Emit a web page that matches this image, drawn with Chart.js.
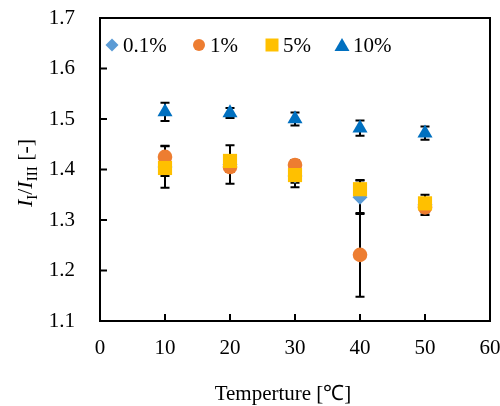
<!DOCTYPE html>
<html>
<head>
<meta charset="utf-8">
<script src="https://cdn.jsdelivr.net/npm/chart.js@4/dist/chart.umd.min.js"></script>
<style>
html, body { margin: 0; padding: 0; background: #fff; }
</style>
</head>
<body>
<canvas id="grafico" width="500" height="406"></canvas>
<script>
// dados
const temperaturas = [10, 20, 30, 40, 50];
const serieNomes = ['0.1%', '1%', '5%', '10%'];
const valores01 = [1.405, 1.410, 1.387, 1.345, 1.330];
const valores1 = [1.425, 1.405, 1.409, 1.231, 1.325];
const valores5 = [1.403, 1.417, 1.389, 1.361, 1.333];
const valores10 = [1.514, 1.512, 1.500, 1.482, 1.472];
const erros01 = [0.041, 0.038, 0.022, 0.033, 0.020];
const erros1 = [0.022, 0.010, 0.010, 0.083, 0.010];
const erros5 = [0.016, 0.010, 0.015, 0.018, 0.010];
const erros10 = [0.018, 0.010, 0.013, 0.015, 0.013];
const ticksX = [0, 10, 20, 30, 40, 50, 60];
const ticksY = [1.1, 1.2, 1.3, 1.4, 1.5, 1.6, 1.7];

const cores = ['#5B9BD5', '#ED7D31', '#FFC000', '#0070C0'];
const estilos = ['rectRot', 'circle', 'rect', 'triangle'];
const raios = [7.5, 7.3, 10, 8.7];
const fonte = '"Liberation Serif", "Times New Roman", serif';

function montarPontos(valores, erros) {
    return temperaturas.map(function (t, i) {
        return { x: t, y: valores[i], erro: erros[i] };
    });
}

const listaValores = [valores01, valores1, valores5, valores10];
const listaErros = [erros01, erros1, erros5, erros10];

let datasets = serieNomes.map(function (nome, i) {
    return {
        label: nome,
        data: montarPontos(listaValores[i], listaErros[i]),
        backgroundColor: cores[i],
        borderColor: cores[i],
        borderWidth: 0,
        pointStyle: estilos[i],
        pointRadius: raios[i],
        pointHoverRadius: raios[i],
        showLine: false,
        order: serieNomes.length - 1 - i // última série por cima, como no Excel
    };
});

// zera o padding extra que os ticks pedem, pra área ficar onde a gente quer
function semPadding(s) {
    s.paddingTop = 0; s.paddingBottom = 0; s.paddingLeft = 0; s.paddingRight = 0;
}

// barras de erro, moldura, ticks internos, legenda e títulos
const extras = {
    id: 'extras',
    beforeDatasetsDraw(chart) {
        const ctx = chart.ctx;
        const sx = chart.scales.x, sy = chart.scales.y;
        ctx.save();
        ctx.strokeStyle = '#000';
        ctx.lineWidth = 2;
        chart.data.datasets.forEach(function (ds) {
            ds.data.forEach(function (p) {
                const px = sx.getPixelForValue(p.x);
                const top = sy.getPixelForValue(p.y + p.erro);
                const bot = sy.getPixelForValue(p.y - p.erro);
                ctx.beginPath();
                ctx.moveTo(px, top); ctx.lineTo(px, bot);
                ctx.moveTo(px - 4.5, top); ctx.lineTo(px + 4.5, top);
                ctx.moveTo(px - 4.5, bot); ctx.lineTo(px + 4.5, bot);
                ctx.stroke();
            });
        });
        ctx.restore();
    },
    afterDraw(chart) {
        const ctx = chart.ctx;
        const a = chart.chartArea;
        const sx = chart.scales.x, sy = chart.scales.y;
        ctx.save();
        ctx.strokeStyle = '#000';
        ctx.lineWidth = 2;
        ctx.strokeRect(a.left, a.top, a.right - a.left, a.bottom - a.top);
        ctx.beginPath();
        ticksX.forEach(function (t) {
            const px = sx.getPixelForValue(t);
            ctx.moveTo(px, a.bottom); ctx.lineTo(px, a.bottom - 7);
        });
        ticksY.forEach(function (t) {
            const py = sy.getPixelForValue(t);
            ctx.moveTo(a.left, py); ctx.lineTo(a.left + 7, py);
        });
        ctx.stroke();

        // legenda dentro da área
        const posLeg = [112, 199, 272, 342];
        ctx.font = '21px ' + fonte;
        ctx.fillStyle = '#000';
        ctx.textBaseline = 'middle';
        const yLeg = 45;
        chart.data.datasets.forEach(function (ds, i) {
            const cx = posLeg[i];
            ctx.fillStyle = cores[i];
            ctx.beginPath();
            if (estilos[i] === 'rectRot') {
                ctx.moveTo(cx, yLeg - 6.5); ctx.lineTo(cx + 6.5, yLeg);
                ctx.lineTo(cx, yLeg + 6.5); ctx.lineTo(cx - 6.5, yLeg);
            } else if (estilos[i] === 'circle') {
                ctx.arc(cx, yLeg, 6, 0, Math.PI * 2);
            } else if (estilos[i] === 'rect') {
                ctx.rect(cx - 6.5, yLeg - 6.5, 13, 13);
            } else {
                ctx.moveTo(cx, yLeg - 7); ctx.lineTo(cx + 7.5, yLeg + 6);
                ctx.lineTo(cx - 7.5, yLeg + 6);
            }
            ctx.closePath();
            ctx.fill();
            ctx.fillStyle = '#000';
            ctx.textAlign = 'left';
            ctx.fillText(ds.label, cx + 11, yLeg + 1);
        });

        // título eixo x
        ctx.textAlign = 'center';
        ctx.textBaseline = 'alphabetic';
        ctx.font = '21px ' + fonte;
        ctx.fillText('Temperture [℃]', 283, 400);

        // título eixo y com subscritos
        const partes = [
            { t: 'I', f: 'italic 22px ' + fonte, dy: 0 },
            { t: 'I', f: '15px ' + fonte, dy: 5 },
            { t: '/', f: '22px ' + fonte, dy: 0 },
            { t: 'I', f: 'italic 22px ' + fonte, dy: 0 },
            { t: 'III', f: '15px ' + fonte, dy: 5 },
            { t: ' [-]', f: '22px ' + fonte, dy: 0 }
        ];
        let total = 0;
        partes.forEach(function (p) { ctx.font = p.f; p.w = ctx.measureText(p.t).width; total += p.w; });
        ctx.translate(32, 173);
        ctx.rotate(-Math.PI / 2);
        ctx.textAlign = 'left';
        let xx = -total / 2;
        partes.forEach(function (p) {
            ctx.font = p.f;
            ctx.fillText(p.t, xx, p.dy);
            xx += p.w;
        });
        ctx.restore();
    }
};

const config = {
    type: 'scatter',
    data: { datasets: datasets },
    options: {
        responsive: false,
        animation: false,
        layout: { padding: { top: 18, right: 10, left: 0, bottom: 0 } },
        plugins: { legend: { display: false }, tooltip: { enabled: false } },
        scales: {
            x: {
                type: 'linear', min: 0, max: 60,
                afterFit: function (s) { s.height = 85; semPadding(s); },
                afterBuildTicks: function (s) { s.ticks = ticksX.map(function (v) { return { value: v }; }); },
                grid: { display: false, drawTicks: false },
                border: { display: false },
                ticks: { color: '#000', padding: 15, font: { family: fonte, size: 21 } }
            },
            y: {
                type: 'linear', min: 1.1, max: 1.7,
                afterFit: function (s) { s.width = 100; semPadding(s); },
                afterBuildTicks: function (s) { s.ticks = ticksY.map(function (v) { return { value: v }; }); },
                grid: { display: false, drawTicks: false },
                border: { display: false },
                ticks: {
                    color: '#000', padding: 25, font: { family: fonte, size: 21 },
                    callback: function (v) { return v.toFixed(1); }
                }
            }
        }
    },
    plugins: [extras]
};

const cof = document.getElementById('grafico').getContext('2d');
window.myChart = new Chart(cof, config);
</script>
</body>
</html>
